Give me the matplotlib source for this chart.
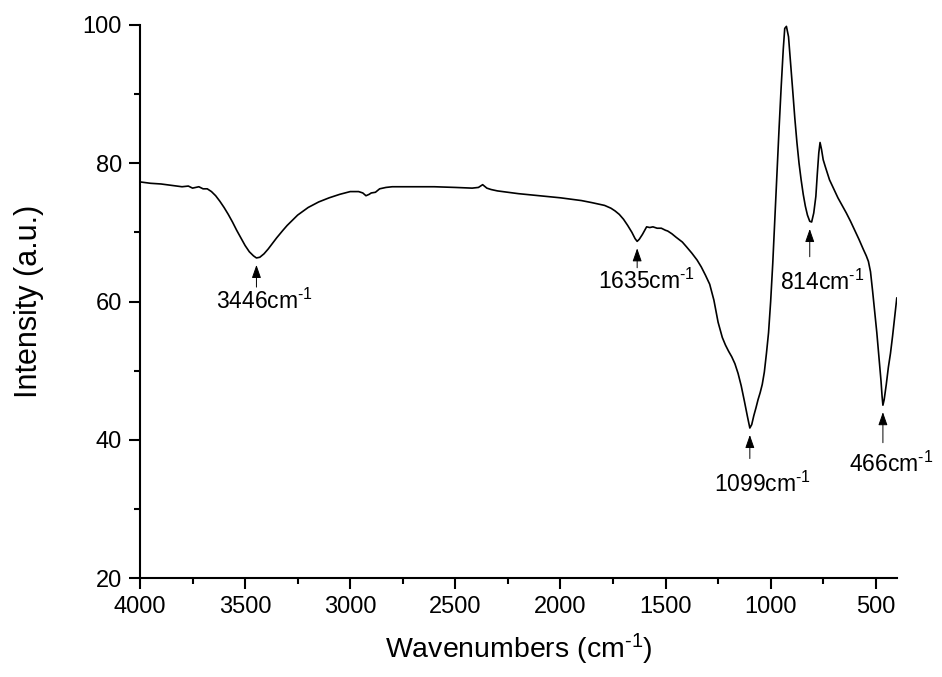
import matplotlib
matplotlib.use("Agg")
import matplotlib.pyplot as plt

plt.rcParams['font.family'] = ['Liberation Sans', 'DejaVu Sans']
plt.rcParams['mathtext.fontset'] = 'custom'
plt.rcParams['mathtext.rm'] = 'Liberation Sans'
plt.rcParams['mathtext.it'] = 'Liberation Sans:italic'
plt.rcParams['mathtext.default'] = 'regular'

# FTIR spectrum
wavenumber = [4000, 3950, 3900, 3850, 3800, 3770, 3750, 3720, 3700, 3680, 3660, 3640,
              3620, 3600, 3580, 3560, 3540, 3520, 3500, 3480, 3460, 3446, 3430, 3410,
              3390, 3370, 3350, 3320, 3300, 3270, 3250, 3200, 3150, 3100, 3050, 3000,
              2960, 2940, 2925, 2910, 2900, 2880, 2860, 2830, 2800, 2700, 2600, 2500,
              2420, 2390, 2370, 2350, 2330, 2300, 2200, 2100, 2000, 1950, 1900, 1850,
              1820, 1790, 1760, 1740, 1720, 1700, 1680, 1660, 1645, 1635, 1625, 1610,
              1590, 1575, 1560, 1540, 1520, 1500, 1490, 1470, 1450, 1420, 1400, 1375,
              1350, 1330, 1310, 1290, 1270, 1250, 1230, 1215, 1200, 1185, 1170, 1155,
              1140, 1125, 1110, 1099, 1090, 1080, 1070, 1060, 1050, 1040, 1030, 1020,
              1010, 1000, 990, 980, 970, 960, 950, 940, 933, 925, 915, 905, 895, 885,
              875, 865, 855, 845, 835, 825, 814, 805, 795, 785, 778, 771, 765, 758,
              750, 740, 720, 700, 680, 660, 640, 620, 600, 580, 560, 545, 535, 525,
              515, 505, 495, 485, 475, 470, 466, 460, 450, 440, 430, 420, 410, 400]
intensity = [77.3, 77.1, 77.0, 76.8, 76.6, 76.7, 76.4, 76.6, 76.3, 76.3, 75.9, 75.3,
             74.5, 73.6, 72.6, 71.5, 70.3, 69.2, 68.1, 67.2, 66.6, 66.3, 66.4, 66.9,
             67.6, 68.4, 69.2, 70.3, 71.0, 71.9, 72.5, 73.6, 74.4, 75.0, 75.5, 75.9,
             75.9, 75.7, 75.3, 75.5, 75.7, 75.8, 76.3, 76.5, 76.6, 76.6, 76.6, 76.5,
             76.4, 76.5, 76.9, 76.4, 76.2, 76.0, 75.6, 75.3, 75.0, 74.8, 74.6, 74.3,
             74.1, 73.9, 73.5, 73.1, 72.6, 71.9, 71.0, 70.0, 69.1, 68.7, 69.0, 69.7,
             70.8, 70.7, 70.8, 70.6, 70.6, 70.3, 70.2, 69.8, 69.3, 68.6, 67.9, 67.0,
             66.0, 65.0, 63.8, 62.5, 60.2, 57.0, 54.8, 53.7, 52.8, 52.0, 51.0, 49.6,
             47.8, 45.6, 43.3, 41.7, 42.2, 43.5, 44.6, 45.8, 46.8, 48.0, 49.8, 52.5,
             55.5, 60.0, 65.5, 72.0, 78.5, 85.0, 91.0, 96.5, 99.5, 99.8, 98.3, 94.5,
             90.5, 86.5, 83.0, 80.0, 77.6, 75.5, 73.8, 72.5, 71.6, 71.5, 72.8, 75.2,
             78.5, 81.5, 83.0, 82.0, 80.5, 79.5, 77.6, 76.3, 75.0, 73.9, 72.8, 71.6,
             70.3, 69.0, 67.6, 66.6, 65.8, 64.3, 61.5, 58.5, 55.5, 52.0, 48.5, 46.3,
             45.0, 45.8, 48.0, 50.5, 52.5, 55.0, 57.8, 60.5]

# labelled absorption bands
peak_wn = [3446, 1635, 1099, 814, 466]
peak_y = [66.3, 68.7, 41.7, 71.5, 45.0]
peak_labels = ['3446cm$^{\u20101}$', '1635cm$^{\u20101}$', '1099cm$^{\u20101}$',
               '814cm$^{\u20101}$', '466cm$^{\u20101}$']
# label placement (text offset x/y, arrow tail) in points
label_dx = [6, 7, 9, 9, 6]
label_dy = [-37, -34, -46, -49, -48]
arrow_len = [-21, -19, -22, -25, -27]

fig = plt.figure(figsize=(9.42, 6.77), dpi=100)
ax = fig.add_axes([0.1486, 0.1462, 0.8034, 0.8169])

ax.plot(wavenumber, intensity, color='black', lw=1.2)

for wn, y, lab, dx, dy, al in zip(peak_wn, peak_y, peak_labels, label_dx, label_dy, arrow_len):
    ax.annotate('', xy=(wn, y), xytext=(0, al), textcoords='offset points',
                arrowprops=dict(arrowstyle='-|>,head_length=0.8,head_width=0.28',
                                color='black', lw=0.7, shrinkA=0, shrinkB=5))
    ax.annotate(lab, xy=(wn, y), xytext=(dx, dy), textcoords='offset points',
                ha='center', va='baseline', fontsize=16.5)

ax.set_xlim(4000, 400)
ax.set_ylim(20, 100)
ax.set_xticks([4000, 3500, 3000, 2500, 2000, 1500, 1000, 500])
ax.set_xticks([3750, 3250, 2750, 2250, 1750, 1250, 750], minor=True)
ax.set_yticks([20, 40, 60, 80, 100])
ax.set_yticks([30, 50, 70, 90], minor=True)

for side in ['top', 'right']:
    ax.spines[side].set_visible(False)
for side in ['left', 'bottom']:
    ax.spines[side].set_linewidth(1.5)

ax.tick_params(which='major', direction='out', length=8, width=1.5, labelsize=17, pad=5)
ax.tick_params(which='minor', direction='out', length=4.5, width=1.5)

ax.set_xlabel('Wavenumbers (cm$^{\u20101}$)', fontsize=20.5, labelpad=10)
ax.set_ylabel('Intensity (a.u.)', fontsize=22, labelpad=28)

fig.savefig('out.png', dpi=100)
